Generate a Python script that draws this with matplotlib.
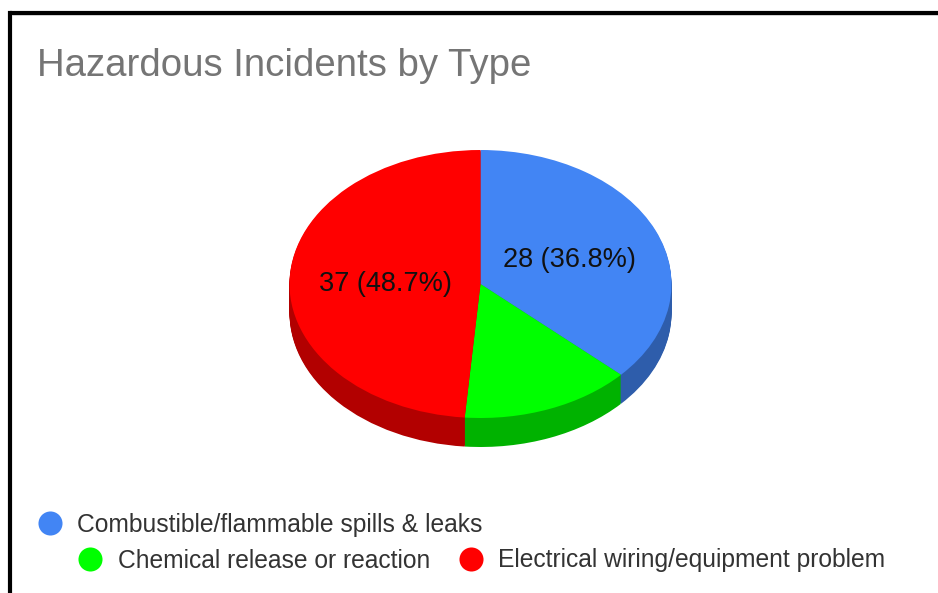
import matplotlib
matplotlib.use('Agg')
import matplotlib.pyplot as plt

plt.rcParams['font.family'] = ['Liberation Sans', 'DejaVu Sans']

labels = ['Combustible/flammable spills & leaks', 'Chemical release or reaction',
          'Electrical wiring/equipment problem']
values = [28, 11, 37]
colors = ['#4285F4', '#00FF00', '#FF0000']
dark_colors = ['#2E5DAB', '#00B200', '#B20000']
title = 'Hazardous Incidents by Type'

W, H = 938, 593
cx, cy, rx, ry, depth = 480.5, 284, 191, 134, 29

fig = plt.figure(figsize=(W / 100, H / 100), dpi=100)

# pie axes covers the ellipse box exactly, so the unit circle gets squashed
ax = fig.add_axes([(cx - rx) / W, 1 - (cy + ry) / H, 2 * rx / W, 2 * ry / H])
for d in range(depth, 0, -1):
    ax.pie(values, colors=dark_colors, startangle=90, counterclock=False,
           center=(0, -d / ry), radius=1, frame=False)
ax.pie(values, colors=colors, startangle=90, counterclock=False, radius=1, frame=False)
ax.set_aspect('auto')
ax.set_xlim(-1, 1)
ax.set_ylim(-1, 1)
ax.axis('off')
for p in ax.patches:
    p.set_clip_on(False)

# overlay in pixel coords for text, legend and the frame
ov = fig.add_axes([0, 0, 1, 1], facecolor='none')
ov.set_xlim(0, W)
ov.set_ylim(H, 0)
ov.axis('off')

ov.plot([10, 10], [H, 13], color='black', lw=3.0, solid_capstyle='projecting')
ov.plot([10, W], [13, 13], color='black', lw=3.0, solid_capstyle='butt')
ov.plot([12, W], [15.3, 15.3], color='#cccccc', lw=0.6)

ov.text(37, 66, title, fontsize=27.6, color='#757575', va='center', ha='left')

total = sum(values)
ov.text(569, 260, '%d (%.1f%%)' % (values[0], 100 * values[0] / total),
        fontsize=19.5, color='#111111', ha='center', va='center')
ov.text(385, 284, '%d (%.1f%%)' % (values[2], 100 * values[2] / total),
        fontsize=19.5, color='#111111', ha='center', va='center')

legend_pos = [(49.5, 523, 77), (90, 558.5, 118), (471, 558.5, 498)]
for (mx, my, tx), lab, col in zip(legend_pos, labels, colors):
    ov.scatter([mx], [my], s=300, color=col, linewidths=0)
    ov.text(tx, my + 2, lab, fontsize=17.7, color='#333333', va='center', ha='left')

fig.savefig('out.png', dpi=100)
